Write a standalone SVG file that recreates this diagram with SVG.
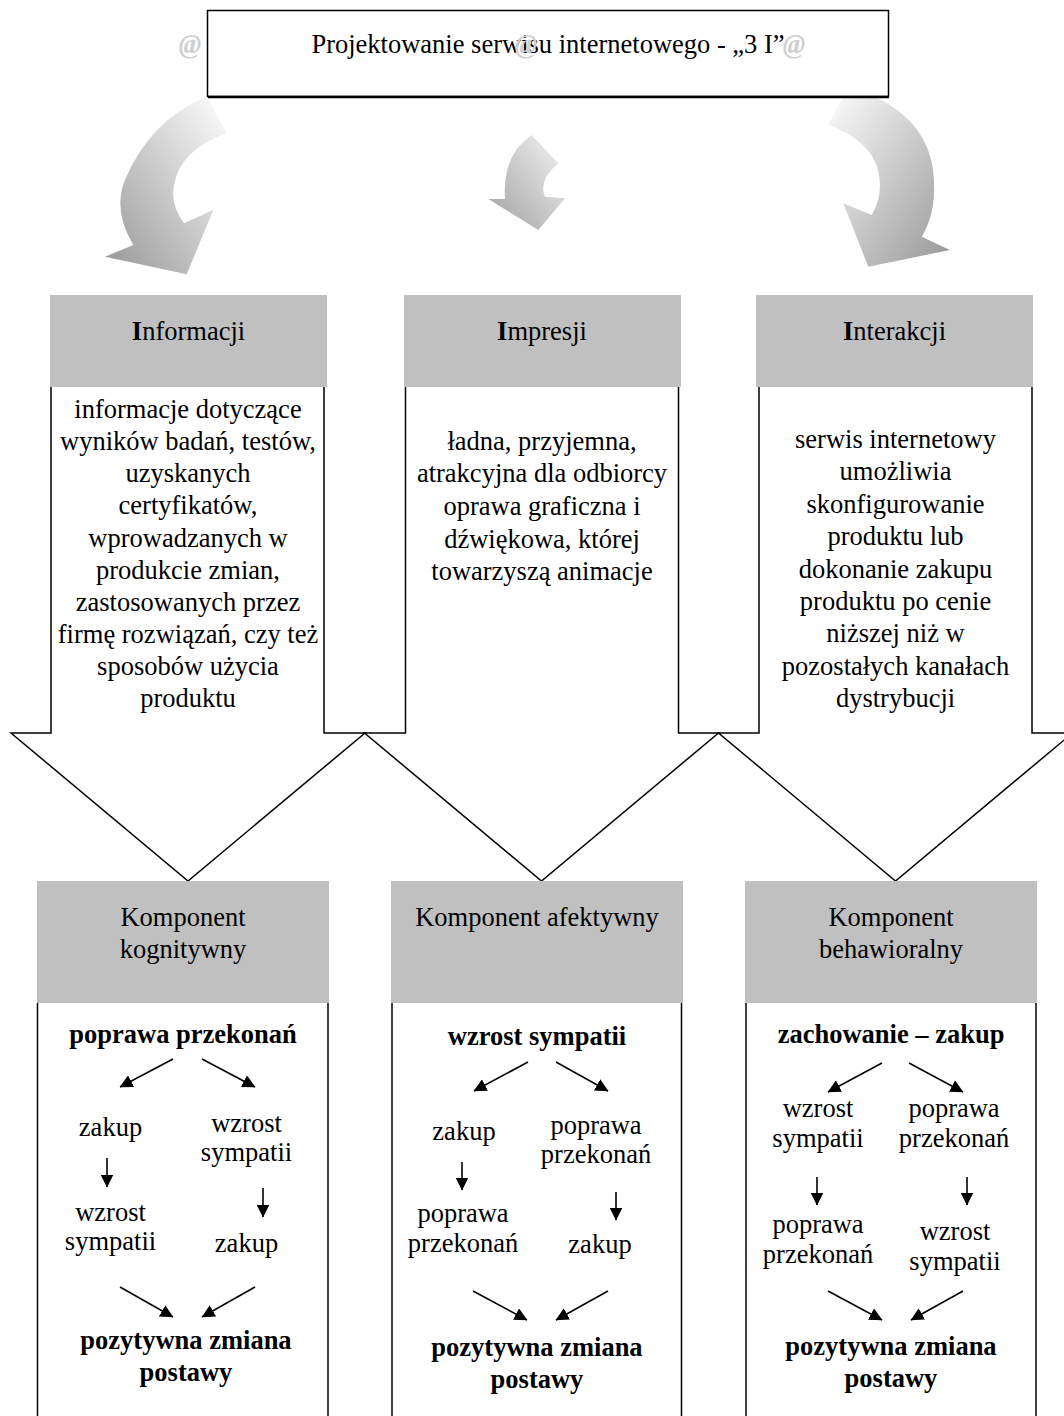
<svg xmlns="http://www.w3.org/2000/svg" width="1064" height="1416" viewBox="0 0 1064 1416">
<style>
text{font-family:"Liberation Serif","Times New Roman",serif;font-size:26.5px;font-weight:normal;fill:#000;text-anchor:middle}
.b{font-weight:bold}
.wm{fill:#cfcfcf;font-style:italic;font-weight:bold;font-size:27px}
.hdr{fill:#c0c0c0}
.out{fill:#fff;stroke:#000;stroke-width:1.5}
.side{stroke:#000;stroke-width:1.5;fill:none}
.ar{stroke:#000;stroke-width:1.6;fill:none;marker-end:url(#ah)}
</style>
<defs>
<marker id="ah" markerUnits="userSpaceOnUse" markerWidth="13" markerHeight="13" viewBox="0 0 13 13" refX="12.5" refY="6.5" orient="auto">
<path d="M0,0 L13,6.5 L0,13 z" fill="#000"/>
</marker>
<linearGradient id="gL" x1="1" y1="0" x2="0" y2="1">
<stop offset="0" stop-color="#ffffff"/><stop offset="1" stop-color="#969696"/>
</linearGradient>
<linearGradient id="gM" x1="0" y1="1" x2="1" y2="0">
<stop offset="0" stop-color="#a0a0a0"/><stop offset="1" stop-color="#f4f4f4"/>
</linearGradient>
<linearGradient id="gR" x1="0" y1="0" x2="1" y2="1">
<stop offset="0" stop-color="#ffffff"/><stop offset="1" stop-color="#969696"/>
</linearGradient>
</defs>
<rect width="1064" height="1416" fill="#fff"/>

<g id="connectors">
<path d="M206.7,96.7 Q150,120 125,180 Q112.5,210 133.3,245 L105,256.7 L186.7,274.3 L213.3,210 L184,223.3 Q170,205 174,185 Q180,150 226.7,133.3 Z" fill="url(#gL)"/>
<path d="M531.7,135 Q502,155 505,199 L488.3,199 L538.3,230 L565,198.3 L545,196.7 Q538,180 558.3,163.3 Z" fill="url(#gM)"/>
<path d="M848.3,86.7 Q925,110 933,170 Q938,210 921.7,236.7 L950,250 L868.3,266.7 L843.3,203.3 L871.7,215 Q884,195 878,170 Q870,140 828.3,125 Z" fill="url(#gR)"/>

<line class="ar" x1="173" y1="1059" x2="120" y2="1087"/>
<line class="ar" x1="202" y1="1059" x2="255" y2="1087"/>
<line class="ar" x1="107" y1="1158" x2="107" y2="1187"/>
<line class="ar" x1="263" y1="1188" x2="263" y2="1217"/>
<line class="ar" x1="120" y1="1287" x2="173" y2="1317"/>
<line class="ar" x1="255" y1="1287" x2="202" y2="1317"/>

<line class="ar" x1="528" y1="1062" x2="474" y2="1091"/>
<line class="ar" x1="556" y1="1062" x2="608" y2="1091"/>
<line class="ar" x1="462" y1="1162" x2="462" y2="1190"/>
<line class="ar" x1="616" y1="1192" x2="616" y2="1220"/>
<line class="ar" x1="473" y1="1291" x2="527" y2="1320"/>
<line class="ar" x1="608" y1="1291" x2="556" y2="1320"/>

<line class="ar" x1="882" y1="1063" x2="828" y2="1092"/>
<line class="ar" x1="909" y1="1063" x2="963" y2="1092"/>
<line class="ar" x1="817" y1="1177" x2="817" y2="1205"/>
<line class="ar" x1="967" y1="1177" x2="967" y2="1205"/>
<line class="ar" x1="828" y1="1291" x2="882" y2="1320"/>
<line class="ar" x1="963" y1="1291" x2="911" y2="1320"/>
</g>

<g id="title">
<rect x="207.5" y="10.5" width="681" height="86" fill="#fff" stroke="#000" stroke-width="1.5"/>
<line x1="208" y1="97" x2="889" y2="97" stroke="#000" stroke-width="2.5"/>
<text x="548" y="53">Projektowanie serwisu internetowego - „3 I”</text>
<text class="wm" x="190" y="53">@</text>
<text class="wm" x="526" y="53">@</text>
<text class="wm" x="794" y="53">@</text>
</g>

<g id="informacji">
<path class="out" d="M51,387 L51,733 L11,733 L188,881 L365,733 L324,733 L324,387"/>
<rect class="hdr" x="50" y="295" width="277" height="92"/>
<text x="188.5" y="340"><tspan class="b">I</tspan>nformacji</text>
<text x="188" y="418">informacje dotyczące</text>
<text x="188" y="450">wyników badań, testów,</text>
<text x="188" y="482">uzyskanych</text>
<text x="188" y="514">certyfikatów,</text>
<text x="188" y="546.5">wprowadzanych w</text>
<text x="188" y="578.5">produkcie zmian,</text>
<text x="188" y="611">zastosowanych przez</text>
<text x="188" y="643">firmę rozwiązań, czy też</text>
<text x="188" y="675">sposobów użycia</text>
<text x="188" y="707">produktu</text>
</g>

<g id="impresji">
<path class="out" d="M405.5,387 L405.5,733 L364.5,733 L541.5,881 L718.5,733 L678.5,733 L678.5,387"/>
<rect class="hdr" x="404" y="295" width="277" height="92"/>
<text x="542" y="340"><tspan class="b">I</tspan>mpresji</text>
<text x="542" y="450">ładna, przyjemna,</text>
<text x="542" y="482">atrakcyjna dla odbiorcy</text>
<text x="542" y="515">oprawa graficzna i</text>
<text x="542" y="548">dźwiękowa, której</text>
<text x="542" y="580">towarzyszą animacje</text>
</g>

<g id="interakcji">
<path class="out" d="M759,387 L759,733 L718.5,733 L895.5,881 L1072.5,733 L1032,733 L1032,387"/>
<rect class="hdr" x="756" y="295" width="277" height="92"/>
<text x="894.5" y="340"><tspan class="b">I</tspan>nterakcji</text>
<text x="895.5" y="448">serwis internetowy</text>
<text x="895.5" y="480">umożliwia</text>
<text x="895.5" y="513">skonfigurowanie</text>
<text x="895.5" y="545">produktu lub</text>
<text x="895.5" y="578">dokonanie zakupu</text>
<text x="895.5" y="610">produktu po cenie</text>
<text x="895.5" y="642">niższej niż w</text>
<text x="895.5" y="675">pozostałych kanałach</text>
<text x="895.5" y="707">dystrybucji</text>
</g>

<g id="kognitywny">
<rect class="hdr" x="37" y="881" width="292" height="122"/>
<line class="side" x1="37.5" y1="1003" x2="37.5" y2="1416"/>
<line class="side" x1="328" y1="1003" x2="328" y2="1416"/>
<text x="183" y="926">Komponent</text>
<text x="183" y="958">kognitywny</text>
<text class="b" x="183" y="1043">poprawa przekonań</text>
<text x="110.5" y="1136">zakup</text>
<text x="246.5" y="1132">wzrost</text>
<text x="246.5" y="1161">sympatii</text>
<text x="110.5" y="1221">wzrost</text>
<text x="110.5" y="1250">sympatii</text>
<text x="246.5" y="1252">zakup</text>
<text class="b" x="186" y="1349">pozytywna zmiana</text>
<text class="b" x="186" y="1381">postawy</text>
</g>

<g id="afektywny">
<rect class="hdr" x="391" y="881" width="292" height="122"/>
<line class="side" x1="392" y1="1003" x2="392" y2="1416"/>
<line class="side" x1="681.5" y1="1003" x2="681.5" y2="1416"/>
<text x="537" y="926">Komponent afektywny</text>
<text class="b" x="537" y="1045">wzrost sympatii</text>
<text x="464" y="1140">zakup</text>
<text x="596" y="1134">poprawa</text>
<text x="596" y="1163">przekonań</text>
<text x="463" y="1222">poprawa</text>
<text x="463" y="1252">przekonań</text>
<text x="600" y="1253">zakup</text>
<text class="b" x="537" y="1356">pozytywna zmiana</text>
<text class="b" x="537" y="1388">postawy</text>
</g>

<g id="behawioralny">
<rect class="hdr" x="745" y="881" width="292" height="122"/>
<line class="side" x1="746" y1="1003" x2="746" y2="1416"/>
<line class="side" x1="1036" y1="1003" x2="1036" y2="1416"/>
<text x="891" y="926">Komponent</text>
<text x="891" y="958">behawioralny</text>
<text class="b" x="891" y="1043">zachowanie – zakup</text>
<text x="818" y="1117">wzrost</text>
<text x="818" y="1147">sympatii</text>
<text x="954" y="1117">poprawa</text>
<text x="954" y="1147">przekonań</text>
<text x="818" y="1233">poprawa</text>
<text x="818" y="1263">przekonań</text>
<text x="955" y="1240">wzrost</text>
<text x="955" y="1270">sympatii</text>
<text class="b" x="891" y="1355">pozytywna zmiana</text>
<text class="b" x="891" y="1387">postawy</text>
</g>
</svg>
